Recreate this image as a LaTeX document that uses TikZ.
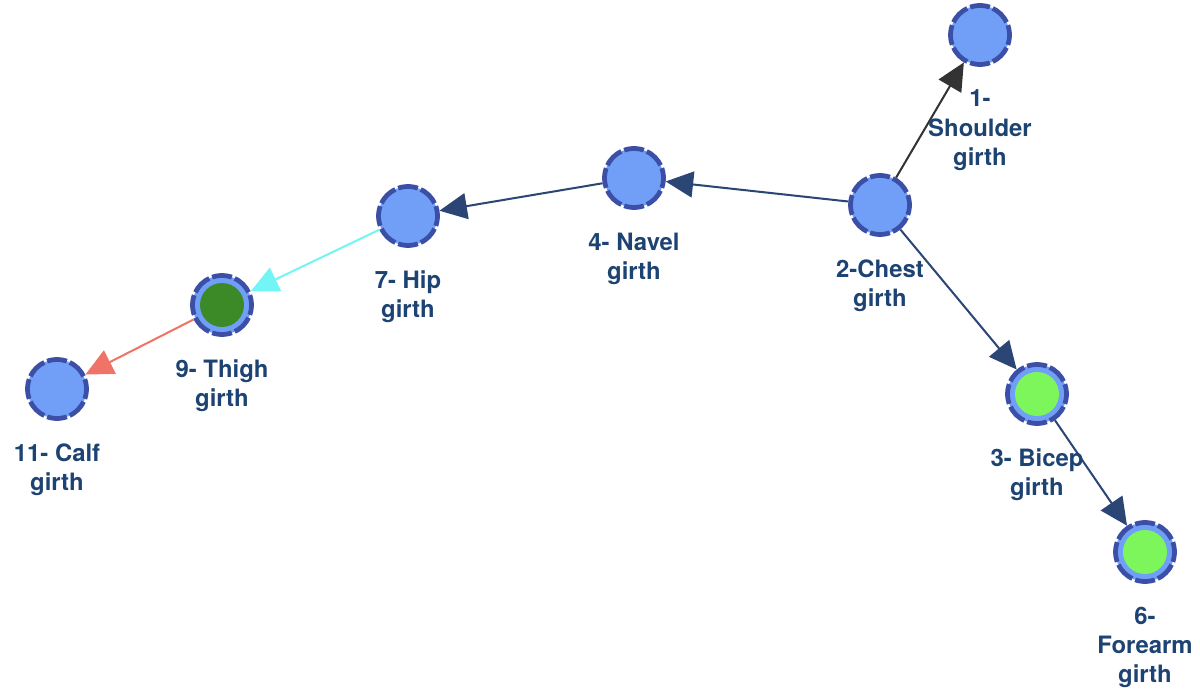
\documentclass[tikz,border=0pt]{standalone}
\usepackage{fontspec}
\setmainfont{TeX Gyre Heros}
\usetikzlibrary{arrows.meta,positioning}
\definecolor{nodeblue}{HTML}{719EF7}
\definecolor{rimblue}{HTML}{3B4FA6}
\definecolor{txtblue}{HTML}{1D4373}
\definecolor{edgeblue}{HTML}{2B4675}
\definecolor{edgegray}{HTML}{333333}
\definecolor{edgecyan}{HTML}{73F5F5}
\definecolor{edgered}{HTML}{F07368}
\definecolor{litegreen}{HTML}{7CF65A}
\definecolor{darkgreen}{HTML}{3C8A27}
\begin{document}
\begin{tikzpicture}[x=0.02cm,y=-0.02cm,
  girth/.style={circle,draw=rimblue,fill=nodeblue,line width=0.095cm,minimum size=1.18cm,inner sep=0pt,
    dash pattern=on 0.4cm off 0.063cm,dash phase=0.2cm},
  core/.style={path picture={\fill[#1] (path picture bounding box.center) circle (0.44cm);}},
  lbl/.style={align=center,text=txtblue,inner sep=1pt,font=\bfseries\fontsize{13.6}{16.6}\selectfont},
  link/.style={line width=1.15pt,-{Triangle[length=0.55cm,width=0.52cm]}}]
\useasboundingbox (0,0) rectangle (1200,695);
% measurements
\node[girth] (n1) at (980,35) {};
\node[girth] (n2) at (880,205) {};
\node[girth,core=litegreen] (n3) at (1037,394) {};
\node[girth] (n4) at (634,178) {};
\node[girth,core=litegreen] (n6) at (1145,552) {};
\node[girth] (n7) at (408,216) {};
\node[girth,core=darkgreen] (n9) at (222,305) {};
\node[girth] (n11) at (57,389) {};
% links
\draw[link,edgegray] (n2) -- (n1);
\draw[link,edgeblue] (n2) -- (n4);
\draw[link,edgeblue] (n4) -- (n7);
\draw[link,edgecyan] (n7) -- (n9);
\draw[link,edgered] (n9) -- (n11);
\draw[link,edgeblue] (n2) -- (n3);
\draw[link,edgeblue] (n3) -- (n6);
% labels
\node[lbl,below=0.42cm of n1] (t1) {1-\\Shoulder\\girth};
\node[lbl,below=0.42cm of n2] (t2) {2-Chest\\girth};
\node[lbl,below=0.42cm of n3] (t3) {3- Bicep\\girth};
\node[lbl,below=0.42cm of n4] (t4) {4- Navel\\girth};
\node[lbl,below=0.42cm of n6] (t6) {6-\\Forearm\\girth};
\node[lbl,below=0.42cm of n7] (t7) {7- Hip\\girth};
\node[lbl,below=0.42cm of n9] (t9) {9- Thigh\\girth};
\node[lbl,below=0.42cm of n11] (t11) {11- Calf\\girth};
\end{tikzpicture}
\end{document}
